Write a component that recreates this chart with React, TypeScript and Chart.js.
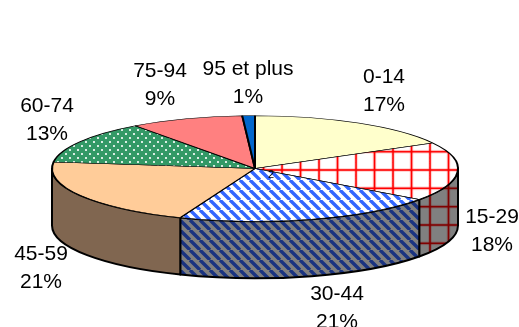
import { useEffect, useRef } from "react";
import { Chart, registerables } from "chart.js";

Chart.register(...registerables);

const ageGroups = ["0-14", "15-29", "30-44", "45-59", "60-74", "75-94", "95 et plus"];
const shares = [17, 18, 21, 21, 13, 9, 1];

// Centre of each two-line caption, in canvas pixels.
const captionCentres: [number, number][] = [
  [384, 91], [492, 231], [337, 308], [41, 268], [47, 120], [160, 85], [248, 83],
];

const SQUASH = 0.26;
const DEPTH = 57;
const RADIUS = 203;
const CENTRE_Y = 168.5;

function tile(w: number, h: number, paint: (c: CanvasRenderingContext2D) => void) {
  const t = document.createElement("canvas");
  t.width = w;
  t.height = h;
  paint(t.getContext("2d")!);
  return t;
}

// Cancels the flattening transform so a pattern on the top face keeps its on-screen size and phase.
const unflatten = () =>
  new DOMMatrix([1, 0, 0, 1 / SQUASH, 0, (-CENTRE_Y * (1 - SQUASH)) / SQUASH]);

function gridTile(bg: string, fg: string) {
  const w = 37;
  const h = 55;
  return tile(w, h, (c) => {
    c.fillStyle = bg;
    c.fillRect(0, 0, w, h);
    c.fillStyle = fg;
    for (const x of [4.5, 23]) {
      c.globalAlpha = 0.2;
      c.fillRect(x - 1.8, 0, 3.6, h);
      c.globalAlpha = 1;
      c.fillRect(x - 0.8, 0, 1.6, h);
    }
    for (const y of [5, 23.3, 41.7]) {
      c.globalAlpha = 0.2;
      c.fillRect(0, y - 1.8, w, 3.6);
      c.globalAlpha = 1;
      c.fillRect(0, y - 0.8, w, 1.6);
    }
  });
}

// Diagonal stripes falling to the right.
function stripeTile(bg: string, fg: string) {
  const s = 10;
  return tile(s, s, (c) => {
    c.fillStyle = bg;
    c.fillRect(0, 0, s, s);
    c.strokeStyle = fg;
    c.lineWidth = 3.4;
    c.beginPath();
    for (let i = -s; i <= 2 * s; i += s) {
      c.moveTo(i, 0);
      c.lineTo(i + s, s);
    }
    c.stroke();
  });
}

function dotTile(bg: string, fg: string) {
  const s = 8;
  return tile(s, s, (c) => {
    c.fillStyle = bg;
    c.fillRect(0, 0, s, s);
    c.fillStyle = fg;
    c.beginPath();
    c.arc(2, 2, 1.1, 0, Math.PI * 2);
    c.arc(6, 6, 1.1, 0, Math.PI * 2);
    c.fill();
  });
}

export default function App() {
  const ref = useRef<HTMLCanvasElement>(null);

  useEffect(() => {
    document.body.style.margin = "0";
    const canvas = ref.current!;
    const ctx = canvas.getContext("2d")!;

    const facePattern = (t: HTMLCanvasElement) => {
      const p = ctx.createPattern(t, "repeat")!;
      p.setTransform(unflatten());
      return p;
    };
    const wallPattern = (t: HTMLCanvasElement) => ctx.createPattern(t, "repeat")!;

    const faceFills = [
      "#FFFFCC",
      facePattern(gridTile("#FFFFFF", "#FF0000")),
      facePattern(stripeTile("#FFFFFF", "#3366FF")),
      "#FFCC99",
      facePattern(dotTile("#339966", "#FFFFFF")),
      "#FF8080",
      "#0066CC",
    ];
    const wallFills = [
      "#808066",
      wallPattern(gridTile("#808080", "#800000")),
      wallPattern(stripeTile("#808080", "#1A3380")),
      "#806650",
      "#1A4D33",
      "#804040",
      "#003366",
    ];

    const flatten = {
      id: "flatten",
      beforeDatasetsDraw(chart: Chart) {
        const arcs = chart.getDatasetMeta(0).data as any[];
        const c = chart.ctx;
        const { x: cx, y: cy } = arcs[0];
        const ry = RADIUS * SQUASH;
        c.save();
        c.lineWidth = 2;
        c.strokeStyle = "#000";
        c.lineJoin = "round";
        arcs.forEach((arc, i) => {
          // Only the part of a slice facing the viewer has a visible wall.
          const from = Math.max(arc.startAngle, 0);
          const to = Math.min(arc.endAngle, Math.PI);
          if (to <= from) return;
          c.beginPath();
          c.ellipse(cx, cy, RADIUS, ry, 0, from, to);
          c.ellipse(cx, cy + DEPTH, RADIUS, ry, 0, to, from, true);
          c.closePath();
          c.fillStyle = wallFills[i];
          c.fill();
          c.stroke();
        });
        c.restore();
        c.save();
        c.translate(cx, cy);
        c.scale(1, SQUASH);
        c.translate(-cx, -cy);
      },
      afterDatasetsDraw(chart: Chart) {
        const c = chart.ctx;
        c.restore();
        c.save();
        c.fillStyle = "#000";
        c.textAlign = "center";
        c.textBaseline = "middle";
        c.font = '21px "Liberation Sans"';
        ageGroups.forEach((name, i) => {
          const [x, y] = captionCentres[i];
          c.fillText(name, x, y - 14);
          c.fillText(`${shares[i]}%`, x, y + 14);
        });
        c.font = '11px "Liberation Sans"';
        c.fillText("2", 271, 175);
        c.restore();
      },
    };

    const chart = new Chart(canvas, {
      type: "pie",
      data: {
        labels: ageGroups,
        datasets: [{
          data: shares,
          backgroundColor: faceFills as any,
          borderColor: "#000",
          borderWidth: 2,
          borderAlign: "center",
        }],
      },
      options: {
        responsive: false,
        animation: false,
        radius: RADIUS,
        layout: { padding: { left: 0, right: 9, top: 10, bottom: 0 } },
        plugins: { legend: { display: false }, tooltip: { enabled: false } },
      } as any,
      plugins: [flatten],
    });
    return () => chart.destroy();
  }, []);

  return <canvas ref={ref} width={519} height={327} style={{ display: "block" }} />;
}
